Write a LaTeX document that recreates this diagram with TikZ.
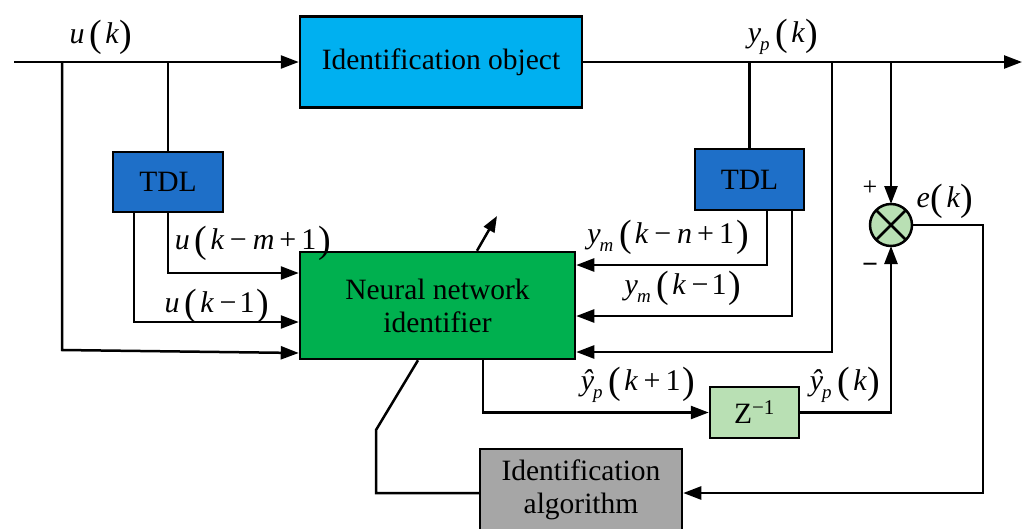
\documentclass[tikz,border=0pt]{standalone}
\usepackage{fontspec}
\setmainfont{Liberation Serif}
\usetikzlibrary{arrows.meta,calc}
\definecolor{objblue}{HTML}{00B0F0}
\definecolor{tdlblue}{HTML}{1E6FC8}
\definecolor{nngreen}{HTML}{00B04F}
\definecolor{lgreen}{HTML}{B9E0B4}
\definecolor{algray}{HTML}{A6A6A6}
\newcommand{\PL}{\raisebox{-3pt}{\fontsize{38}{38}\selectfont\upshape(}}
\newcommand{\PR}{\raisebox{-3pt}{\fontsize{38}{38}\selectfont\upshape)}}
\newcommand{\Sb}[1]{\raisebox{-8pt}{\fontsize{19}{19}\selectfont\itshape #1}}
\newcommand{\Op}[1]{{\upshape #1}}
\newcommand{\G}{\hspace{6pt}}
\begin{document}
\begin{tikzpicture}[x=1pt,y=-1pt,
  blk/.style={draw, line width=2.5pt, inner sep=0pt, align=center, font=\fontsize{29.5}{33}\selectfont},
  ln/.style={line width=2.5pt},
  arr/.style={line width=2.5pt, -{Triangle[length=18pt,width=13pt]}},
  lbl/.style={inner sep=0pt, font=\fontsize{30}{32}\selectfont\itshape}]
\useasboundingbox (0,0) rectangle (1029,528);
% blocks
\node[blk, fill=objblue, minimum width=282pt, minimum height=91pt] (obj) at (441,62) {Identification object};
\node[blk, fill=tdlblue, minimum width=110pt, minimum height=60pt] (tdl1) at (168,182) {TDL};
\node[blk, fill=tdlblue, minimum width=109pt, minimum height=61pt] (tdl2) at (749.5,179.5) {TDL};
\node[blk, fill=nngreen, minimum width=275pt, minimum height=107pt] (nn) at (437.5,305.5) {Neural network\\identifier};
\node[blk, fill=lgreen, circle, outer sep=0pt, minimum size=42pt] (sum) at (891,225) {};
\draw[ln] (sum.north west) -- (sum.south east) (sum.north east) -- (sum.south west);
\node[blk, fill=lgreen, minimum width=89pt, minimum height=51pt] (z) at (754.5,412.5) {Z\textsuperscript{\fontsize{21}{21}\selectfont −1}};
\node[blk, fill=algray, minimum width=202pt, minimum height=82pt] (alg) at (581,490) {Identification\\algorithm};
% coordinates
\coordinate (in) at (14,62);
\coordinate (out) at (1022,62);
\coordinate (b1) at (62,62);
\coordinate (b2) at (168,62);
\coordinate (b3) at (749.5,62);
\coordinate (b4) at (832,62);
\coordinate (b5) at (891,62);
\coordinate (k1) at (376,430);
\coordinate (wt) at (497,216);
% connectors
\draw[arr] (in) -- (obj.west);
\draw[arr] (obj.east) -- (out);
\draw[arr] (b1) -- (62,350) -- (nn.west |- 0,353);
\draw[ln] (b2) -- (tdl1.north);
\draw[arr] (tdl1.south) |- (nn.west |- 0,273);
\draw[arr] (tdl1.south -| 134,0) |- (nn.west |- 0,322);
\draw[ln] (b3) -- (tdl2.north);
\draw[arr] (tdl2.south -| 767,0) |- (nn.east |- 0,265);
\draw[arr] (tdl2.south -| 792,0) |- (nn.east |- 0,316);
\draw[arr] (b4) |- (nn.east |- 0,352);
\draw[arr] (b5) -- (sum.north);
\draw[arr] (sum.east) -| (983,493) -- (alg.east |- 0,493);
\draw[arr] (nn.south -| 483,0) |- (z.west);
\draw[arr] (z.east) -| (sum.south);
\draw[ln] (alg.west |- 0,493) -| (k1) -- (nn.south -| 418,0);
\draw[line width=2.5pt, -{Triangle[length=16pt,width=12pt]}] (nn.north -| 477,0) -- (wt);
% labels
\node[lbl] (lu) at (101,37) {u\hspace{5pt}\PL\hspace{3pt}k\hspace{1pt}\PR};
\node[lbl] (lyp) at (783,37) {y\hspace{-1pt}\Sb{p}\hspace{6pt}\PL\hspace{3pt}k\hspace{1pt}\PR};
\node[lbl] (lum) at (253,243) {u\hspace{5pt}\PL\hspace{3pt}k\G\Op{−}\G m\hspace{5pt}\Op{+}\hspace{5pt}\Op{1}\hspace{2pt}\PR};
\node[lbl] (lu1) at (217,306) {u\hspace{5pt}\PL\hspace{3pt}k\G\Op{−}\hspace{3pt}\Op{1}\hspace{2pt}\PR};
\node[lbl] (lymn) at (668,237) {y\hspace{-1pt}\Sb{m}\hspace{6pt}\PL\hspace{3pt}k\G\Op{−}\G n\hspace{5pt}\Op{+}\hspace{5pt}\Op{1}\hspace{2pt}\PR};
\node[lbl] (lym1) at (683,288) {y\hspace{-1pt}\Sb{m}\hspace{6pt}\PL\hspace{3pt}k\G\Op{−}\hspace{3pt}\Op{1}\hspace{2pt}\PR};
\node[lbl] (le) at (945,201) {e\hspace{1pt}\PL\hspace{3pt}k\hspace{1pt}\PR};
\node[lbl] (lyh1) at (638,385) {ŷ\hspace{-1pt}\Sb{p}\hspace{6pt}\PL\hspace{3pt}k\G\Op{+}\hspace{5pt}\Op{1}\hspace{2pt}\PR};
\node[lbl] (lyh) at (845,385) {ŷ\hspace{-1pt}\Sb{p}\hspace{6pt}\PL\hspace{3pt}k\hspace{1pt}\PR};
\node[inner sep=0pt, font=\fontsize{26}{26}\selectfont] (plus) at (870,188) {+};
\node[inner sep=0pt, font=\fontsize{28}{28}\selectfont\bfseries] (minus) at (870,268) {−};
\end{tikzpicture}
\end{document}
